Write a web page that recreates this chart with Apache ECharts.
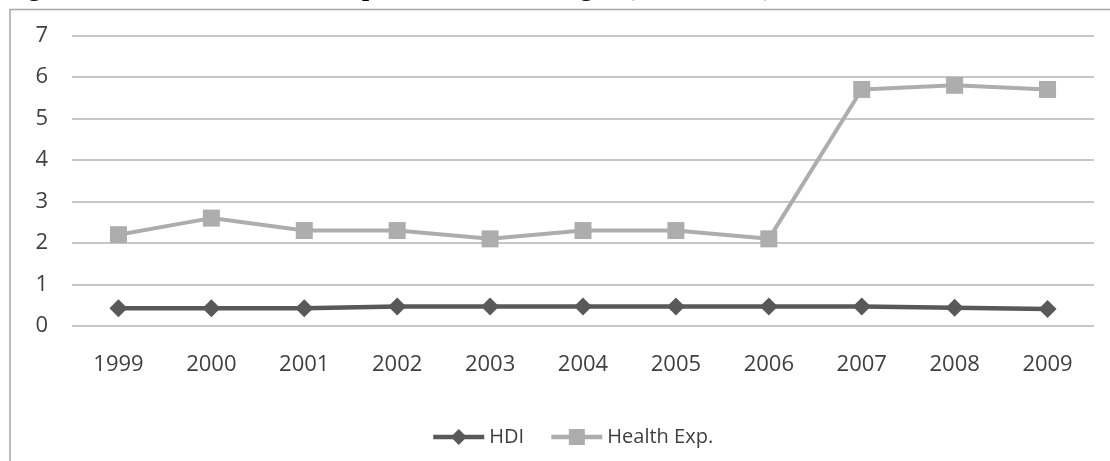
<!DOCTYPE html>
<html>
<head>
<meta charset="utf-8">
<script src="https://cdn.jsdelivr.net/npm/echarts@6/dist/echarts.min.js"></script>
<style>html,body{margin:0;padding:0;background:#fff;}#c{width:1110px;height:461px;}</style>
</head>
<body>
<div id="c"></div>
<script>
const years = ['1999','2000','2001','2002','2003','2004','2005','2006','2007','2008','2009'];
const hdi = [0.43,0.43,0.43,0.47,0.47,0.47,0.47,0.47,0.47,0.44,0.41];
const healthExp = [2.2,2.6,2.3,2.3,2.1,2.3,2.3,2.1,5.7,5.8,5.7];
const seriesNames = ['HDI','Health Exp.'];
const titleText = 'Figure 3: HDI and Health Expenditure in Senegal (% of GDP), 1999-2009.';

const chart = echarts.init(document.getElementById('c'), null, {renderer:'canvas'});
const lab = {color:'#404040', fontFamily:'Open Sans', fontSize:22};
chart.setOption({
  animation:false,
  backgroundColor:'#fff',
  graphic:[
    {type:'rect', shape:{x:10, y:9.5, width:1200, height:500}, style:{fill:'none', stroke:'#a6a6a6', lineWidth:1.5}, silent:true},
    {type:'text', x:1, y:-14, style:{text:titleText, font:'31px "Liberation Serif"', fill:'#000', verticalAlign:'middle', align:'left'}, silent:true}
  ],
  grid:{left:72, right:16, top:35.5, bottom:135, containLabel:false},
  legend:{
    data:seriesNames, left:426, top:422, itemWidth:51, itemHeight:20, itemGap:25,
    lineStyle:{width:4.5},
    textStyle:{color:'#404040', fontFamily:'Open Sans', fontSize:20}
  },
  xAxis:{
    type:'category', data:years, boundaryGap:true,
    axisLine:{show:false}, axisTick:{show:false},
    axisLabel:Object.assign({margin:28}, lab)
  },
  yAxis:{
    type:'value', min:0, max:7, interval:1,
    axisLine:{show:false}, axisTick:{show:false},
    axisLabel:Object.assign({margin:24}, lab),
    splitLine:{lineStyle:{color:'#b4b4b4', width:1.5}}
  },
  series:[
    {name:seriesNames[0], type:'line', data:hdi, symbol:'diamond', symbolSize:18,
     lineStyle:{color:'#595959', width:4.5}, itemStyle:{color:'#595959'}, color:'#595959'},
    {name:seriesNames[1], type:'line', data:healthExp, symbol:'rect', symbolSize:17,
     lineStyle:{color:'#adadad', width:4}, itemStyle:{color:'#adadad'}, color:'#adadad'}
  ]
});
</script>
</body>
</html>
